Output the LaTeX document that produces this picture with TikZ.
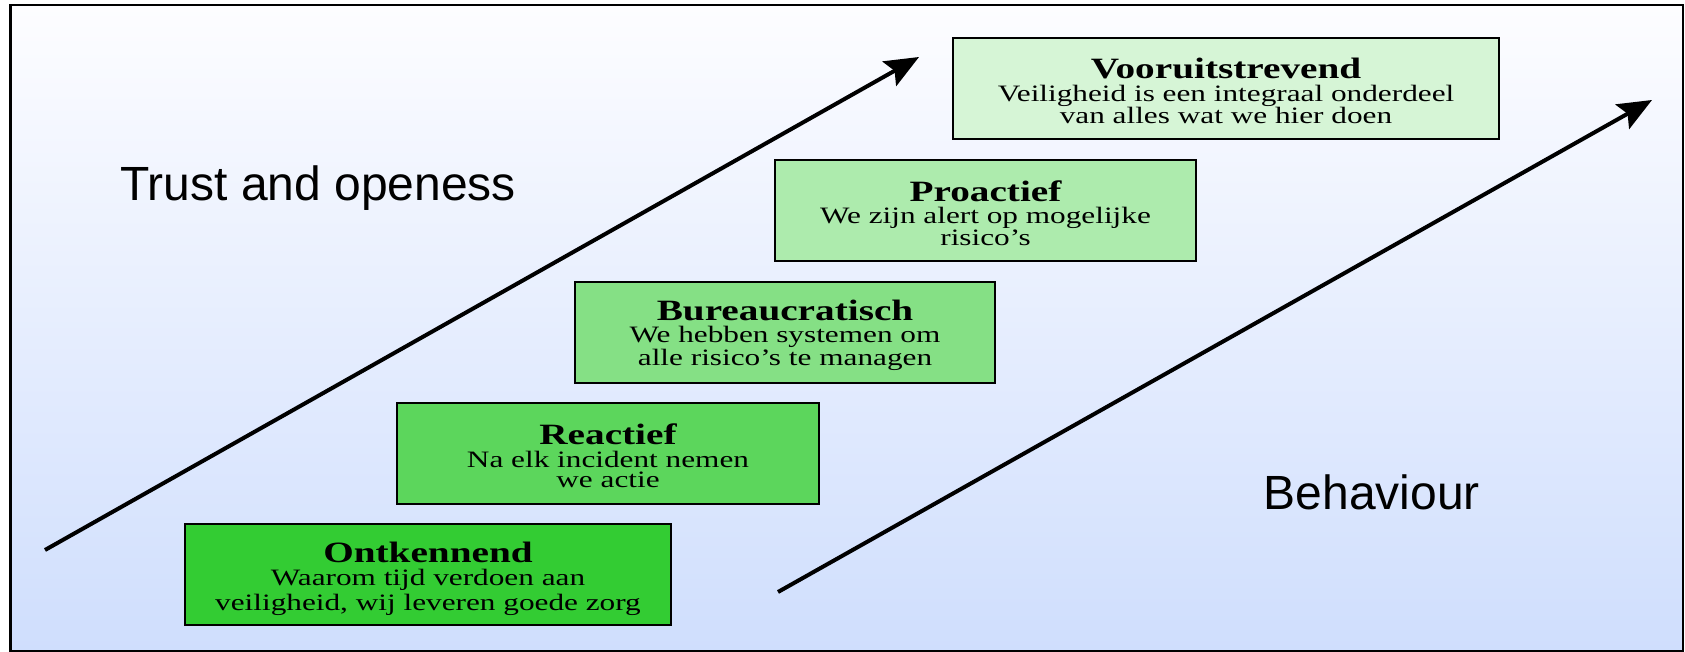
\documentclass[tikz,border=0pt]{standalone}
\usepackage{fontspec}
\setmainfont{Liberation Serif}
\newfontfamily\stepfont[FakeStretch=1.33]{Liberation Serif}
\newfontfamily\labelfont{Liberation Sans}
\usetikzlibrary{arrows.meta}
\definecolor{levelgreen}{RGB}{51,204,51}
\definecolor{skytop}{RGB}{253,253,255}
\definecolor{skybottom}{RGB}{207,222,253}
\newcommand{\leveltitle}[1]{{\bfseries\fontsize{29.5}{20}\selectfont #1}}

\begin{document}
\begin{tikzpicture}[x=1pt,y=-1pt,
  levelbox/.style={draw=black, line width=2pt, minimum height=101pt, inner sep=0pt},
  leveltext/.style={inner sep=0pt, align=center, yshift=-2.5pt,
    font=\stepfont\fontsize{23.5}{20.5}\selectfont},
  trendarrow/.style={line width=4pt, -{Stealth[length=34pt,width=28pt,inset=6pt]}},
  axislabel/.style={inner sep=0pt, font=\labelfont\fontsize{48}{50}\selectfont}]
  \useasboundingbox (0,0) rectangle (1685,652);
  \fill[white] (0,0) rectangle (1685,652);
  % backdrop with vertical gradient and frame
  \shade[top color=skytop, bottom color=skybottom] (10.5,5) rectangle (1683,651);
  \draw[line width=2.5pt] (10.5,5) rectangle (1683,651);

  % the five levels, from bottom to top
  \node[levelbox, fill=levelgreen, minimum width=486pt] (ontkennend) at (428,574.5) {};
  \node[leveltext, yshift=-2pt] (ontkennendtext) at (ontkennend.center)
    {\leveltitle{Ontkennend}\\[2pt]Waarom tijd verdoen aan\\[3pt]veiligheid, wij leveren goede zorg};
  \node[levelbox, fill=levelgreen!80!white, minimum width=422pt] (reactief) at (608,453.5) {};
  \node[leveltext] (reactieftext) at (reactief.center)
    {\leveltitle{Reactief}\\[2pt]Na elk incident nemen\\we actie};
  \node[levelbox, fill=levelgreen!60!white, minimum width=420pt] (bureaucratisch) at (785,332.5) {};
  \node[leveltext] (bureaucratischtext) at (bureaucratisch.center)
    {\leveltitle{Bureaucratisch}\\[2pt]We hebben systemen om\\alle risico’s te managen};
  \node[levelbox, fill=levelgreen!40!white, minimum width=421pt] (proactief) at (985.5,210.5) {};
  \node[leveltext] (proactieftext) at (proactief.center)
    {\leveltitle{Proactief}\\[2pt]We zijn alert op mogelijke\\risico’s};
  \node[levelbox, fill=levelgreen!20!white, minimum width=546pt] (vooruitstrevend) at (1226,88.5) {};
  \node[leveltext] (vooruitstrevendtext) at (vooruitstrevend.center)
    {\leveltitle{Vooruitstrevend}\\[2pt]Veiligheid is een integraal onderdeel\\van alles wat we hier doen};

  % the two rising arrows
  \coordinate (trustfrom) at (45,550);
  \coordinate (trustto) at (919,57);
  \coordinate (behavefrom) at (778,592);
  \coordinate (behaveto) at (1652,100);
  \draw[trendarrow] (trustfrom) -- (trustto);
  \draw[trendarrow] (behavefrom) -- (behaveto);

  \node[axislabel, anchor=base west] (trust) at (120,201) {Trust and openess};
  \node[axislabel, anchor=base west] (behaviour) at (1263.5,509) {Behaviour};
\end{tikzpicture}
\end{document}
